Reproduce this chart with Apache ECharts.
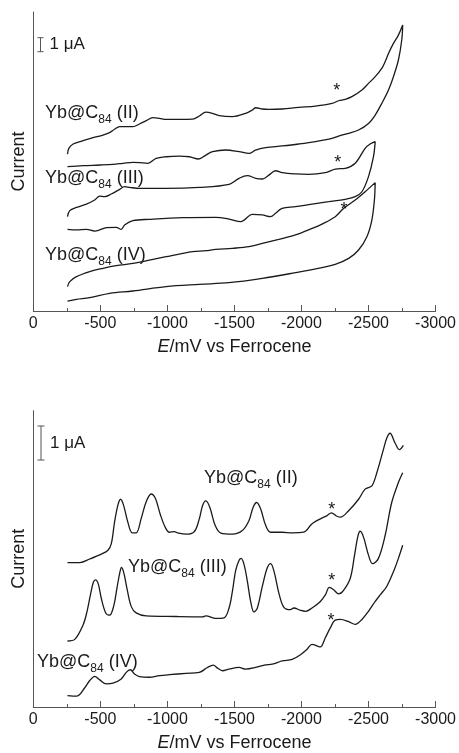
<!DOCTYPE html>
<html>
<head>
<meta charset="utf-8">
<script src="https://cdn.jsdelivr.net/npm/echarts@6/dist/echarts.min.js"></script>
<style>
html,body{margin:0;padding:0;background:#fff;}
#chart{width:459px;height:753px;}
</style>
</head>
<body>
<div id="chart"></div>
<script>
/*----------data: [E (mV vs Fc), current (uA, offset)]----------*/
// cyclic voltammograms (forward scan then reverse scan)
var cvII=[[-255,11.21],[-265,11.62],[-297,11.93],[-371,12.17],[-446,12.38],[-520,12.57],[-569,12.74],[-606,12.98],[-644,13.17],[-693,13.17],[-743,13.17],[-792,13.36],[-842,13.60],[-891,13.81],[-941,13.76],[-990,13.69],[-1089,13.69],[-1188,13.71],[-1238,13.93],[-1287,14.21],[-1337,14.12],[-1386,13.95],[-1485,13.88],[-1584,14.12],[-1634,14.36],[-1658,14.52],[-1708,14.43],[-1757,14.40],[-1856,14.43],[-1980,14.55],[-2104,14.64],[-2228,14.83],[-2277,15.02],[-2327,15.12],[-2376,15.31],[-2451,15.79],[-2500,16.26],[-2550,16.74],[-2599,17.33],[-2624,17.81],[-2649,18.40],[-2686,19.12],[-2723,19.71],[-2755,20.43],
	[-2748,19.36],[-2723,17.93],[-2686,16.74],[-2649,15.79],[-2599,14.83],[-2550,14.00],[-2500,13.40],[-2426,12.93],[-2352,12.69],[-2277,12.50],[-2228,12.33],[-2104,12.10],[-1980,11.93],[-1856,11.79],[-1733,11.67],[-1658,11.50],[-1609,11.26],[-1535,11.38],[-1436,11.50],[-1337,11.38],[-1287,11.14],[-1233,10.86],[-1163,11.02],[-1089,11.07],[-990,11.02],[-916,10.90],[-854,10.55],[-792,10.60],[-743,10.62],[-668,10.55],[-594,10.48],[-495,10.43],[-371,10.38],[-255,10.31]];
var cvIII=[[-255,6.74],[-272,7.17],[-322,7.40],[-396,7.64],[-458,7.93],[-495,8.21],[-532,8.17],[-582,8.36],[-644,8.69],[-681,8.88],[-718,8.83],[-792,8.76],[-990,8.76],[-1238,8.83],[-1460,9.05],[-1535,9.48],[-1597,9.67],[-1658,9.48],[-1708,9.43],[-1757,9.71],[-1807,10.02],[-1856,9.88],[-1955,9.79],[-2054,9.76],[-2178,9.88],[-2252,10.14],[-2327,10.19],[-2401,10.55],[-2475,11.62],[-2512,11.93],[-2550,12.10],
	[-2537,11.02],[-2500,9.60],[-2451,8.52],[-2401,8.17],[-2327,7.98],[-2203,7.81],[-2079,7.64],[-1955,7.45],[-1856,7.33],[-1807,6.98],[-1770,6.74],[-1708,6.86],[-1634,6.90],[-1547,6.38],[-1460,6.57],[-1361,6.69],[-1114,6.67],[-866,6.55],[-743,6.45],[-681,6.14],[-656,5.83],[-619,5.98],[-545,5.95],[-495,5.79],[-458,5.71],[-396,5.83],[-322,5.79],[-255,5.83]];
var cvIV=[[-255,1.74],[-272,2.10],[-322,2.45],[-421,2.81],[-520,3.05],[-619,3.24],[-743,3.40],[-866,3.64],[-990,3.88],[-1114,4.12],[-1188,4.24],[-1287,4.31],[-1361,4.40],[-1485,4.48],[-1609,4.60],[-1708,4.83],[-1831,5.12],[-1955,5.43],[-2079,5.90],[-2153,6.21],[-2252,6.74],[-2314,7.33],[-2401,7.93],[-2475,8.52],[-2550,9.17],
	[-2544,7.93],[-2525,6.50],[-2488,5.31],[-2426,4.36],[-2352,3.76],[-2252,3.33],[-2153,3.10],[-1955,2.74],[-1708,2.33],[-1460,2.02],[-1238,1.90],[-990,1.74],[-743,1.43],[-569,1.26],[-421,0.95],[-322,0.83],[-255,0.71]];
// differential pulse voltammograms
var dpvII=[[-255,4.42],[-347,4.42],[-421,4.53],[-507,4.68],[-557,4.80],[-582,5.00],[-606,5.66],[-631,6.18],[-651,6.36],[-673,6.18],[-705,5.66],[-738,5.33],[-767,5.33],[-804,5.76],[-842,6.28],[-879,6.52],[-911,6.38],[-946,5.91],[-983,5.51],[-1015,5.35],[-1052,5.37],[-1077,5.33],[-1139,5.29],[-1201,5.37],[-1238,5.76],[-1262,6.16],[-1287,6.31],[-1317,6.11],[-1356,5.56],[-1399,5.32],[-1485,5.29],[-1559,5.40],[-1609,5.71],[-1639,6.11],[-1666,6.26],[-1696,6.06],[-1733,5.56],[-1770,5.35],[-1856,5.35],[-1931,5.33],[-2017,5.35],[-2079,5.61],[-2141,5.76],[-2191,5.86],[-2223,5.94],[-2265,5.84],[-2290,5.81],[-2352,6.01],[-2426,6.36],[-2475,6.67],[-2525,6.77],[-2562,7.17],[-2611,7.88],[-2636,8.23],[-2661,8.38],[-2698,8.08],[-2730,7.88],[-2760,8.01]];
var dpvIII=[[-255,2.02],[-309,2.07],[-371,2.51],[-401,2.93],[-426,3.43],[-448,3.82],[-465,3.89],[-485,3.76],[-507,3.33],[-540,2.88],[-569,2.81],[-599,3.08],[-624,3.64],[-644,4.09],[-658,4.27],[-676,4.09],[-698,3.64],[-730,3.08],[-767,2.88],[-842,2.79],[-1064,2.77],[-1262,2.76],[-1287,2.79],[-1361,2.71],[-1423,2.73],[-1460,3.03],[-1485,3.54],[-1510,4.19],[-1535,4.49],[-1550,4.55],[-1572,4.36],[-1597,3.84],[-1621,3.23],[-1646,2.91],[-1671,3.03],[-1708,3.69],[-1745,4.26],[-1770,4.39],[-1795,4.16],[-1832,3.48],[-1869,3.05],[-1918,2.98],[-1943,3.03],[-1993,2.96],[-2030,2.93],[-2079,3.03],[-2141,3.23],[-2178,3.43],[-2208,3.66],[-2240,3.59],[-2277,3.46],[-2314,3.57],[-2364,3.94],[-2396,4.65],[-2421,5.23],[-2438,5.38],[-2463,5.20],[-2500,4.65],[-2530,4.39],[-2574,4.55],[-2624,5.25],[-2673,6.26],[-2723,6.87],[-2755,7.17]];
var dpvIV=[[-255,0.35],[-322,0.33],[-384,0.59],[-421,0.81],[-458,0.94],[-495,0.83],[-545,0.71],[-594,0.73],[-656,0.86],[-693,1.06],[-723,1.14],[-755,1.01],[-792,0.93],[-866,0.91],[-941,0.96],[-1015,0.99],[-1139,1.03],[-1238,1.06],[-1299,1.21],[-1342,1.28],[-1374,1.19],[-1411,1.11],[-1460,1.16],[-1535,1.21],[-1584,1.16],[-1658,1.21],[-1733,1.29],[-1782,1.31],[-1856,1.41],[-1931,1.46],[-1993,1.60],[-2042,1.77],[-2079,1.92],[-2116,1.87],[-2141,1.84],[-2178,2.12],[-2215,2.42],[-2252,2.66],[-2290,2.68],[-2352,2.61],[-2401,2.53],[-2451,2.68],[-2500,2.93],[-2550,3.23],[-2587,3.43],[-2636,3.69],[-2686,4.14],[-2723,4.55],[-2755,4.95]];
var labelNames=["II","III","IV"];

/*----------chart---------*/
var FONT='"Liberation Sans", Arial, Helvetica, sans-serif';
var INK='#1a1a1a';
var AXIS='#555';

function xAxisOf(i){
	return {
		gridIndex:i,
		type:'value',
		min:-3000,
		max:0,
		interval:500,
		inverse:true,
		axisLine:{show:true,lineStyle:{color:AXIS,width:1}},
		axisTick:{show:true,inside:true,length:6,lineStyle:{color:AXIS}},
		minorTick:{show:true,splitNumber:2,length:3,lineStyle:{color:AXIS}},
		splitLine:{show:false},
		axisLabel:{margin:5,fontSize:16,fontFamily:FONT,color:INK,formatter:function(v){return String(v);}},
		name:'{i|E}/mV vs Ferrocene',
		nameLocation:'middle',
		nameGap:27,
		nameTextStyle:{fontSize:18,fontFamily:FONT,color:INK,rich:{i:{fontSize:18,fontFamily:FONT,fontStyle:'italic',color:INK}}}
	};
}
function yAxisOf(i,top){
	return {
		gridIndex:i,
		type:'value',
		min:0,
		max:top,
		axisLine:{show:true,lineStyle:{color:AXIS,width:1}},
		axisTick:{show:false},
		axisLabel:{show:false},
		splitLine:{show:false},
		name:'Current',
		nameLocation:'middle',
		nameGap:5,
		nameTextStyle:{fontSize:18,fontFamily:FONT,color:INK}
	};
}
function curve(data,i){
	return {
		type:'line',
		xAxisIndex:i,
		yAxisIndex:i,
		data:data,
		showSymbol:false,
		smooth:0.35,
		lineStyle:{color:INK,width:1.3},
		silent:true
	};
}
function sampleLabel(name,x,y){
	return {
		type:'text',x:x,y:y,
		style:{
			text:'{a|Yb@C}{s|84}{a| ('+name+')}',
			align:'left',verticalAlign:'middle',
			rich:{
				a:{fontSize:18,fontFamily:FONT,fill:INK,lineHeight:26},
				s:{fontSize:12,fontFamily:FONT,fill:INK,lineHeight:12,verticalAlign:'bottom'}
			}
		}
	};
}
function star(x,y){
	return {type:'text',x:x,y:y,style:{text:'*',fontSize:18,fontFamily:FONT,fill:INK,align:'center',verticalAlign:'middle'}};
}
function scaleBar(x,y1,y2,w){
	return [
		{type:'line',shape:{x1:x,y1:y1,x2:x,y2:y2},style:{stroke:AXIS,lineWidth:1}},
		{type:'line',shape:{x1:x-w,y1:y1,x2:x+w,y2:y1},style:{stroke:AXIS,lineWidth:1}},
		{type:'line',shape:{x1:x-w,y1:y2,x2:x+w,y2:y2},style:{stroke:AXIS,lineWidth:1}},
		{type:'text',x:x+9,y:(y1+y2)/2,style:{text:'1 \u03bcA',fontSize:17,fontFamily:FONT,fill:INK,align:'left',verticalAlign:'middle'}}
	];
}

var chart=echarts.init(document.getElementById('chart'),null,{renderer:'canvas'});
var graphics=[]
	.concat(scaleBar(40.5,37.7,51.7,3))
	.concat(scaleBar(41,426,460,3.5))
	.concat([
		sampleLabel(labelNames[0],45,113),
		sampleLabel(labelNames[1],45,178),
		sampleLabel(labelNames[2],45,255),
		sampleLabel(labelNames[0],204,478),
		sampleLabel(labelNames[1],128,567),
		sampleLabel(labelNames[2],37,662),
		star(336.7,91.5),star(337.7,163),star(344,210),
		star(331.7,510),star(331.7,581.5),star(331,621.5)
	]);

var option={
	animation:false,
	backgroundColor:'#fff',
	grid:[
		{left:33.3,right:21.7,top:12,height:299},
		{left:33.3,right:21.7,top:410.7,height:299.3}
	],
	xAxis:[xAxisOf(0),xAxisOf(1)],
	yAxis:[yAxisOf(0,21.36),yAxisOf(1,9.07)],
	series:[
		curve(cvII,0),curve(cvIII,0),curve(cvIV,0),
		curve(dpvII,1),curve(dpvIII,1),curve(dpvIV,1)
	],
	graphic:graphics
};
chart.setOption(option);
</script>
</body>
</html>
